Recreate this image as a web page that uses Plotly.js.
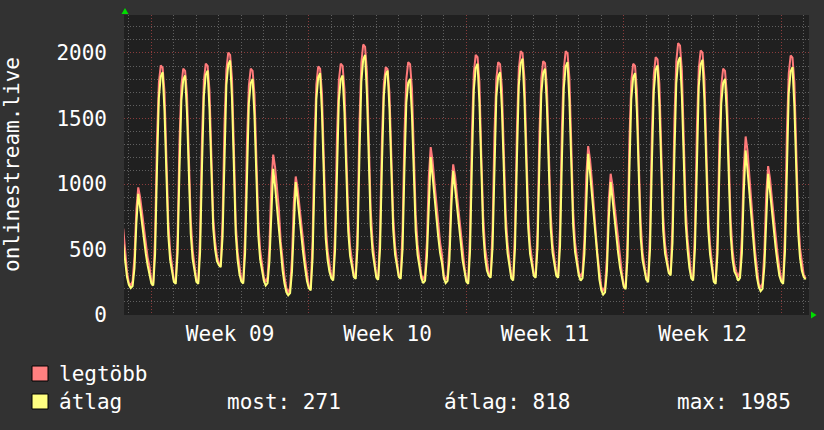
<!DOCTYPE html>
<html>
<head>
<meta charset="utf-8">
<script src="https://cdn.plot.ly/plotly-3.0.1.min.js"></script>
<style>html,body{margin:0;padding:0;background:#323232;}#chart{width:824px;height:430px;}</style>
</head>
<body>
<div id="chart"></div>
<script>
// 2-hour samples, starting Saturday 2023-02-25 18:00
const startTime = '2023-02-25T18:00:00Z';
const stepHours = 2;

// legtöbb (max) per week block
const legtobbW8 = [660, 470, 330,
  245, 225, 258, 446, 808, 974, 900, 780, 660, 545, 440, 370];
const legtobbW9 = [
  255, 240, 606, 1339, 1772, 1905, 1888, 1705, 1172, 723, 490, 373,
  268, 253, 611, 1327, 1750, 1880, 1864, 1685, 1164, 725, 497, 383,
  268, 253, 619, 1352, 1785, 1918, 1901, 1718, 1185, 740, 560, 450,
  395, 380, 737, 1451, 1872, 2002, 1986, 1807, 1288, 700, 480, 355,
  270, 255, 613, 1328, 1750, 1880, 1864, 1685, 1165, 726, 499, 385,
  289, 250, 289, 536, 1008, 1225, 1127, 969, 811, 560, 400, 290,
  210, 170, 210, 433, 861, 1057, 968, 825, 682, 549, 424, 320];
const legtobbW10 = [
  220, 202, 575, 1321, 1761, 1897, 1880, 1694, 1151, 694, 490, 380,
  295, 278, 639, 1360, 1787, 1918, 1902, 1721, 1196, 754, 524, 409,
  310, 291, 681, 1462, 1923, 2065, 2047, 1852, 1284, 805, 557, 433,
  300, 284, 638, 1345, 1763, 1892, 1876, 1699, 1184, 750, 525, 413,
  305, 291, 652, 1373, 1799, 1930, 1914, 1733, 1209, 766, 537, 422,
  309, 268, 309, 565, 1056, 1281, 1179, 1015, 851, 698, 555, 463,
  303, 267, 303, 526, 954, 1150, 1061, 918, 775, 642, 490, 370];
const legtobbW11 = [
  270, 253, 634, 1397, 1847, 1986, 1969, 1778, 1223, 756, 513, 392,
  315, 299, 658, 1375, 1800, 1930, 1914, 1734, 1212, 772, 544, 429,
  295, 278, 660, 1424, 1875, 2014, 1997, 1806, 1250, 781, 538, 417,
  315, 299, 660, 1381, 1807, 1938, 1922, 1741, 1217, 774, 545, 430,
  315, 299, 676, 1431, 1877, 2014, 1997, 1808, 1259, 796, 556, 436,
  328, 288, 329, 581, 1067, 1289, 1188, 1026, 864, 640, 460, 320,
  215, 180, 216, 443, 878, 1078, 987, 842, 697, 561, 434, 320];
const legtobbW12 = [
  230, 212, 587, 1338, 1782, 1918, 1901, 1713, 1167, 707, 480, 380,
  285, 266, 640, 1389, 1832, 1968, 1951, 1764, 1219, 760, 540, 430,
  335, 317, 704, 1477, 1934, 2075, 2057, 1864, 1301, 827, 581, 420,
  295, 278, 661, 1427, 1880, 2019, 2002, 1810, 1253, 783, 539, 417,
  270, 253, 611, 1327, 1750, 1880, 1864, 1685, 1164, 725, 497, 383,
  332, 289, 332, 604, 1124, 1363, 1255, 1081, 907, 680, 490, 340,
  240, 206, 244, 479, 929, 1136, 1042, 892, 742, 601, 469, 360];
const legtobbW13 = [
  270, 253, 633, 1393, 1843, 1981, 1964, 1774, 1221, 754, 512, 391,
  305, 280];

// átlag (average) per week block
const atlagW8 = [540, 400, 290,
  230, 205, 220, 360, 700, 925, 820, 690, 580, 470, 380, 320];
const atlagW9 = [
  240, 225, 469, 1120, 1658, 1820, 1853, 1560, 1006, 616, 420, 323,
  253, 238, 477, 1113, 1637, 1796, 1828, 1542, 1001, 620, 429, 333,
  253, 238, 482, 1133, 1671, 1833, 1866, 1573, 1019, 660, 500, 410,
  380, 365, 602, 1233, 1754, 1911, 1943, 1659, 1122, 620, 420, 310,
  255, 240, 474, 1099, 1615, 1771, 1802, 1521, 990, 615, 427, 334,
  261, 225, 243, 412, 831, 1116, 982, 822, 688, 480, 340, 240,
  175, 150, 167, 331, 738, 1014, 884, 729, 599, 470, 357, 260];
const atlagW10 = [
  205, 187, 436, 1099, 1647, 1813, 1846, 1547, 983, 585, 420, 330,
  280, 263, 498, 1124, 1640, 1797, 1828, 1546, 1014, 639, 451, 357,
  290, 276, 532, 1216, 1780, 1951, 1985, 1677, 1096, 686, 481, 379,
  285, 269, 509, 1147, 1674, 1834, 1866, 1579, 1036, 652, 461, 365,
  290, 276, 505, 1116, 1620, 1772, 1803, 1528, 1009, 642, 459, 368,
  281, 243, 262, 445, 897, 1205, 1061, 888, 743, 599, 474, 397,
  280, 243, 260, 423, 826, 1100, 971, 817, 689, 560, 420, 320];
const atlagW11 = [
  255, 238, 490, 1162, 1716, 1884, 1918, 1616, 1044, 641, 440, 339,
  300, 284, 519, 1147, 1665, 1822, 1853, 1571, 1037, 661, 472, 378,
  280, 263, 517, 1194, 1753, 1922, 1956, 1651, 1076, 669, 466, 365,
  300, 284, 523, 1162, 1688, 1848, 1880, 1593, 1050, 667, 476, 380,
  300, 284, 531, 1189, 1732, 1897, 1930, 1634, 1074, 679, 482, 383,
  302, 263, 282, 466, 921, 1230, 1085, 911, 766, 560, 400, 270,
  190, 156, 173, 336, 739, 1014, 885, 731, 602, 473, 362, 270];
const atlagW12 = [
  215, 197, 444, 1104, 1648, 1813, 1846, 1549, 989, 593, 420, 330,
  270, 251, 499, 1161, 1707, 1872, 1905, 1607, 1045, 648, 470, 380,
  320, 302, 552, 1218, 1768, 1935, 1968, 1668, 1102, 702, 502, 360,
  280, 263, 516, 1190, 1746, 1914, 1948, 1645, 1072, 667, 465, 364,
  255, 238, 473, 1099, 1615, 1772, 1803, 1521, 989, 614, 426, 332,
  303, 263, 283, 472, 938, 1256, 1107, 928, 779, 580, 420, 290,
  215, 182, 200, 370, 791, 1078, 944, 782, 648, 514, 397, 300];
const atlagW13 = [
  255, 238, 486, 1148, 1694, 1859, 1892, 1594, 1032, 635, 436, 337,
  290, 271];

const seriesNames = ['legtöbb', 'átlag'];
const statLabels = ['most: 271', 'átlag: 818', 'max: 1985'];
const yAxisLabel = 'onlinestream.live';

const legtobb = [].concat(legtobbW8, legtobbW9, legtobbW10, legtobbW11, legtobbW12, legtobbW13);
const atlag = [].concat(atlagW8, atlagW9, atlagW10, atlagW11, atlagW12, atlagW13);

const t0 = Date.parse(startTime);
function ts(i) {
  return new Date(t0 + i * stepHours * 3600000).toISOString().slice(0, 19).replace('T', ' ');
}
const xs = legtobb.map((_, i) => ts(i));

const RED = '#ff7a7a', YEL = '#ffff77';
const MONO = 'DejaVu Sans Mono, monospace';

// pixel helpers for layout-only placements (plot area: x 124..809, y 15..315)
const L = 124, R = 809, T = 15, B = 315;
const px = v => (v - L) / (R - L);
const py = v => (B - v) / (B - T);

const traces = [
  {x: xs, y: legtobb, type: 'scatter', mode: 'lines', name: seriesNames[0],
   line: {color: RED, width: 2}, hoverinfo: 'skip'},
  {x: xs, y: atlag, type: 'scatter', mode: 'lines', name: seriesNames[1],
   line: {color: YEL, width: 2}, hoverinfo: 'skip'}
];

const textFont = {family: MONO, size: 21, color: '#ffffff'};
const DOTS = '1px,2px';

const layout = {
  width: 824, height: 430,
  margin: {l: L, r: 824 - R, t: T, b: 430 - B, pad: 0},
  paper_bgcolor: '#323232',
  plot_bgcolor: '#202020',
  showlegend: false,
  xaxis: {
    type: 'date',
    range: ['2023-02-25 18:48', '2023-03-28 05:36'],
    tickmode: 'linear', tick0: '2023-02-27', dtick: 7 * 86400000,
    tickformat: 'Week %V', ticklabelmode: 'period',
    showgrid: true, gridcolor: '#8a3c3c', griddash: DOTS, gridwidth: 1,
    minor: {tickmode: 'linear', tick0: '2023-02-27', dtick: 86400000,
            showgrid: true, gridcolor: '#606060', griddash: DOTS, gridwidth: 1, ticks: ''},
    ticks: '', zeroline: false, showline: false,
    tickfont: textFont, ticklabelstandoff: 4, fixedrange: true
  },
  yaxis: {
    range: [0, 2290],
    tickmode: 'linear', tick0: 0, dtick: 500,
    showgrid: true, gridcolor: '#8a3c3c', griddash: DOTS, gridwidth: 1,
    minor: {tickmode: 'linear', tick0: 0, dtick: 100,
            showgrid: true, gridcolor: '#606060', griddash: DOTS, gridwidth: 1, ticks: ''},
    ticks: '', zeroline: false, showline: false,
    tickfont: textFont, ticklabelstandoff: 16, fixedrange: true
  },
  shapes: [
    {type: 'path', xref: 'paper', yref: 'paper', line: {width: 0}, fillcolor: '#00dd00',
     path: `M ${px(125)} ${py(8)} L ${px(121.5)} ${py(14)} L ${px(128.5)} ${py(14)} Z`},
    {type: 'path', xref: 'paper', yref: 'paper', line: {width: 0}, fillcolor: '#00dd00',
     path: `M ${px(816.5)} ${py(315)} L ${px(811)} ${py(311.5)} L ${px(811)} ${py(318.5)} Z`},
    {type: 'rect', xref: 'paper', yref: 'paper', x0: px(32), x1: px(48), y0: py(381), y1: py(366),
     fillcolor: '#ff8080', line: {color: '#000000', width: 1}},
    {type: 'rect', xref: 'paper', yref: 'paper', x0: px(32), x1: px(48), y0: py(409), y1: py(394),
     fillcolor: '#ffff80', line: {color: '#000000', width: 1}}
  ],
  annotations: [
    {text: yAxisLabel, xref: 'paper', yref: 'paper', x: px(12), y: py(165), textangle: -90,
     showarrow: false, xanchor: 'center', yanchor: 'middle', font: textFont},
    {text: seriesNames[0], xref: 'paper', yref: 'paper', x: px(57), y: py(374), showarrow: false,
     xanchor: 'left', yanchor: 'middle', font: textFont},
    {text: seriesNames[1], xref: 'paper', yref: 'paper', x: px(57), y: py(402), showarrow: false,
     xanchor: 'left', yanchor: 'middle', font: textFont},
    {text: statLabels[0], xref: 'paper', yref: 'paper', x: px(225), y: py(402), showarrow: false,
     xanchor: 'left', yanchor: 'middle', font: textFont},
    {text: statLabels[1], xref: 'paper', yref: 'paper', x: px(442), y: py(402), showarrow: false,
     xanchor: 'left', yanchor: 'middle', font: textFont},
    {text: statLabels[2], xref: 'paper', yref: 'paper', x: px(675), y: py(402), showarrow: false,
     xanchor: 'left', yanchor: 'middle', font: textFont}
  ]
};

Plotly.newPlot('chart', traces, layout, {staticPlot: true, displayModeBar: false});
</script>
</body>
</html>
